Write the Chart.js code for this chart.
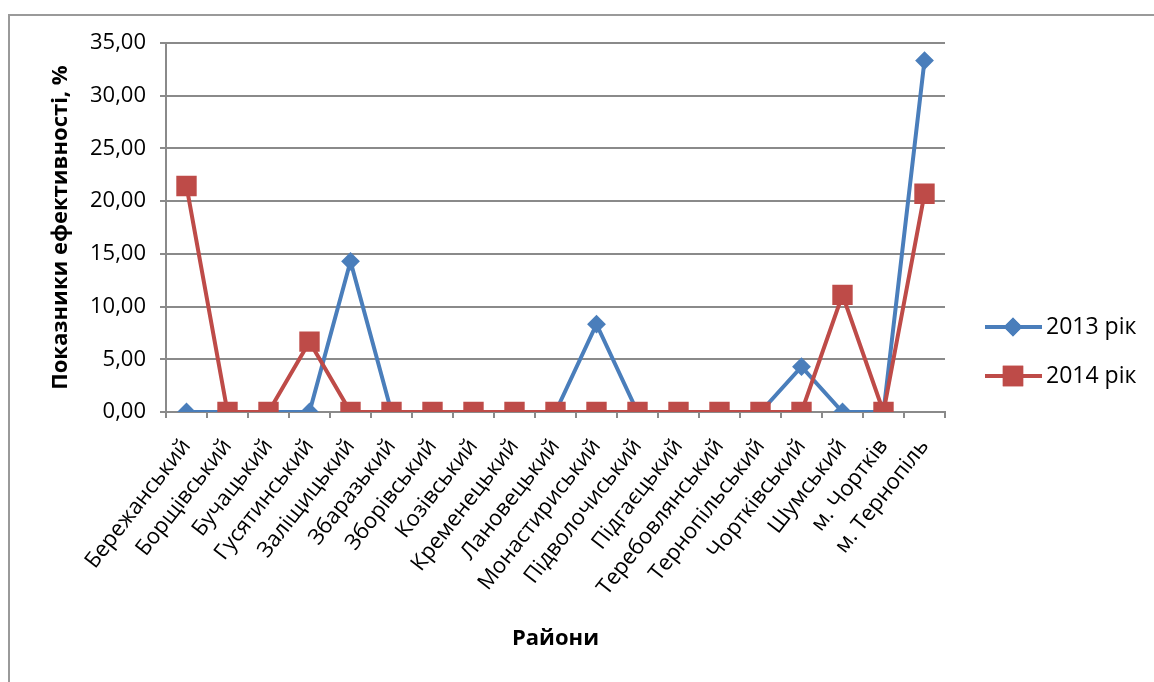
<!DOCTYPE html>
<html>
<head>
<meta charset="utf-8">
<script src="https://cdn.jsdelivr.net/npm/chart.js@4"></script>
<style>
html,body{margin:0;padding:0;background:#fff;}
#wrap{position:relative;width:1154px;height:682px;}
</style>
</head>
<body>
<div id="wrap"><canvas id="c" width="1154" height="682"></canvas></div>
<script>
const categories = ["Бережанський","Борщівський","Бучацький","Гусятинський","Заліщицький","Збаразький","Зборівський","Козівський","Кременецький","Лановецький","Монастириський","Підволочиський","Підгаєцький","Теребовлянський","Тернопільський","Чортківський","Шумський","м. Чортків","м. Тернопіль"];
const values2013 = [0,0,0,0,14.29,0,0,0,0,0,8.33,0,0,0,0,4.3,0,0,33.33];
const values2014 = [21.43,0,0,6.67,0,0,0,0,0,0,0,0,0,0,0,0,11.11,0,20.7];
const seriesNames = ["2013 рік","2014 рік"];
const yTitle = "Показники ефективності, %";
const xTitle = "Райони";

const BLUE = "#4A7EBB";
const RED = "#BE4B48";
const GRID = "#8a8a8a";
const FONT = "'Open Sans', 'Noto Sans', sans-serif";

const framePlugin = {
  id: 'frame',
  beforeDraw(chart) {
    const ctx = chart.ctx;
    ctx.save();
    ctx.strokeStyle = "#9a9a9a";
    ctx.lineWidth = 2;
    ctx.beginPath();
    ctx.moveTo(9, 682);
    ctx.lineTo(9, 15);
    ctx.lineTo(1154, 15);
    ctx.stroke();
    ctx.restore();
  }
};

const legendPlugin = {
  id: 'customLegend',
  afterDraw(chart) {
    const ctx = chart.ctx;
    const items = [
      {name: seriesNames[0], color: BLUE, style: 'rectRot', radius: 8, y: 327},
      {name: seriesNames[1], color: RED, style: 'rect', radius: 13, y: 376}
    ];
    ctx.save();
    items.forEach(it => {
      ctx.strokeStyle = it.color;
      ctx.lineWidth = 4;
      ctx.beginPath();
      ctx.moveTo(985, it.y);
      ctx.lineTo(1042, it.y);
      ctx.stroke();
      ctx.fillStyle = it.color;
      ctx.lineWidth = 2;
      Chart.helpers.drawPoint(ctx, {pointStyle: it.style, radius: it.radius, borderWidth: 2, rotation: 0}, 1013, it.y);
      ctx.fill();
      ctx.stroke();
      ctx.fillStyle = "#000";
      ctx.font = "23px " + FONT;
      ctx.textBaseline = "middle";
      ctx.textAlign = "left";
      ctx.fillText(it.name, 1046, it.y);
    });
    ctx.restore();
  }
};

new Chart(document.getElementById('c'), {
  type: 'line',
  data: {
    labels: categories,
    datasets: [
      {
        label: seriesNames[0],
        data: values2013,
        borderColor: BLUE,
        backgroundColor: BLUE,
        borderWidth: 4,
        pointStyle: 'rectRot',
        pointRadius: 8,
        pointBorderWidth: 2,
        pointBorderColor: BLUE,
        pointBackgroundColor: BLUE,
        tension: 0,
        order: 1
      },
      {
        label: seriesNames[1],
        data: values2014,
        borderColor: RED,
        backgroundColor: RED,
        borderWidth: 4,
        pointStyle: 'rect',
        pointRadius: 13,
        pointBorderWidth: 2,
        pointBorderColor: RED,
        pointBackgroundColor: RED,
        tension: 0,
        order: 0
      }
    ]
  },
  options: {
    responsive: false,
    animation: false,
    events: [],
    layout: {padding: {left: 0, top: 43, right: 209, bottom: 0}},
    plugins: {legend: {display: false}, tooltip: {enabled: false}},
    scales: {
      x: {
        offset: true,
        grid: {display: true, offset: true, drawOnChartArea: false, drawTicks: true, tickLength: 6, color: GRID, lineWidth: 2},
        border: {display: true, color: GRID, width: 2},
        ticks: {color: '#000', font: {family: FONT, size: 22}, minRotation: 52, maxRotation: 52, autoSkip: false, padding: 16},
        title: {display: true, text: xTitle, color: '#000', font: {family: FONT, size: 22, weight: 'bold'}, padding: {top: 0, bottom: 30}},
        afterFit(scale) { scale.height = 682 - 412; }
      },
      y: {
        min: 0, max: 35,
        grid: {color: GRID, lineWidth: 2, tickLength: 6, drawTicks: true},
        border: {display: true, color: GRID, width: 2},
        ticks: {stepSize: 5, color: '#000', font: {family: FONT, size: 22}, padding: 14,
          callback: v => Number(v).toFixed(2).replace('.', ',')},
        title: {display: true, text: yTitle, color: '#000', font: {family: FONT, size: 22, weight: 'bold'}, padding: {top: 48, bottom: 0}},
        afterFit(scale) { scale.width = 166; }
      }
    }
  },
  plugins: [framePlugin, legendPlugin]
});
</script>
</body>
</html>
